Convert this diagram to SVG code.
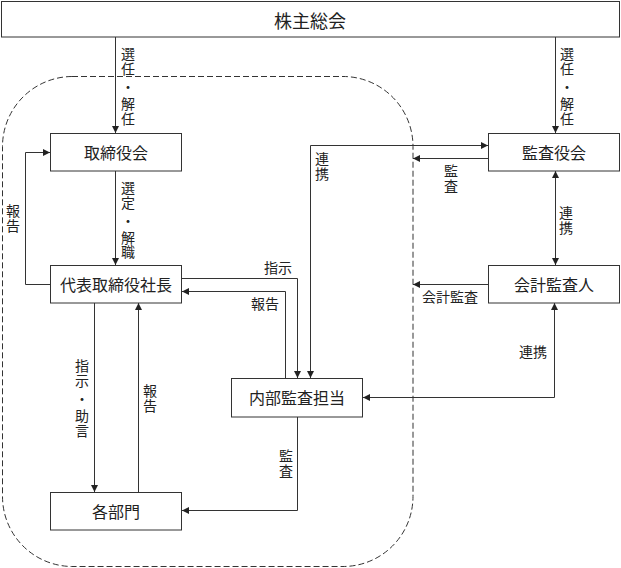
<svg xmlns="http://www.w3.org/2000/svg" width="621" height="568" viewBox="0 0 621 568">
<defs>
<marker id="ah" viewBox="0 0 10 10" refX="10" refY="5" markerWidth="7" markerHeight="7" markerUnits="userSpaceOnUse" orient="auto-start-reverse">
<path d="M0,0 L10,5 L0,10 z" fill="#222"/>
</marker>
<style>
.box{fill:#fff;stroke:#333;stroke-width:1}
.t{font-family:"Noto Sans CJK JP","Noto Sans CJK SC",sans-serif;fill:#222;text-anchor:middle;dominant-baseline:central}
.bt{font-size:16px}
.lb{font-size:14px}
.c{fill:none;stroke:#333;stroke-width:1}
.a{marker-end:url(#ah)}
.ab{marker-start:url(#ah);marker-end:url(#ah)}
</style>
</defs>
<rect width="621" height="568" fill="#fff"/>
<path d="M72,76.5 H343 A70,70 0 0 1 413,146.5 V496.5 A70,70 0 0 1 343,566.5 H72 A70,70 0 0 1 2.5,496.5 V146.5 A70,70 0 0 1 72,76.5 Z" fill="none" stroke="#333" stroke-width="1" stroke-dasharray="6,3"/>
<g id="connectors">
<path class="c a" d="M115.5,37 V133"/>
<path class="c a" d="M555.5,37 V133"/>
<path class="c a" d="M115.5,171 V265"/>
<path class="c a" d="M50,284.5 H25.5 V152.5 H50"/>
<path class="c a" d="M182,278.5 H297.5 V378"/>
<path class="c a" d="M285.5,378 V291.5 H182"/>
<path class="c ab" d="M310.5,378 V145.5 H488"/>
<path class="c a" d="M488,158.5 H413"/>
<path class="c ab" d="M555.5,171 V265"/>
<path class="c a" d="M488,284.5 H413"/>
<path class="c ab" d="M554.5,303 V397.5 H363"/>
<path class="c a" d="M94.5,303 V492"/>
<path class="c a" d="M138.5,492 V303"/>
<path class="c a" d="M297.5,417 V510.5 H182"/>
</g>
<g id="n-shareholders">
<rect class="box" x="1.5" y="1.5" width="618" height="35.5"/>
<text class="t" x="310" y="20" font-size="18">株主総会</text>
</g>
<g id="n-board">
<rect class="box" x="50.5" y="133.5" width="131" height="37.5"/>
<text class="t bt" x="116" y="152">取締役会</text>
</g>
<g id="n-president">
<rect class="box" x="50.5" y="265.5" width="131" height="37.5"/>
<text class="t bt" x="116" y="284">代表取締役社長</text>
</g>
<g id="n-departments">
<rect class="box" x="50.5" y="492.5" width="131" height="37.5"/>
<text class="t bt" x="116" y="511">各部門</text>
</g>
<g id="n-internal-audit">
<rect class="box" x="231.5" y="378.5" width="131" height="38.5"/>
<text class="t bt" x="297" y="397">内部監査担当</text>
</g>
<g id="n-auditors">
<rect class="box" x="488.5" y="133.5" width="131" height="37.5"/>
<text class="t bt" x="554" y="152">監査役会</text>
</g>
<g id="n-accounting-auditor">
<rect class="box" x="488.5" y="265.5" width="131" height="37.5"/>
<text class="t bt" x="554" y="284">会計監査人</text>
</g>
<g id="labels">
<text class="t lb" x="128" y="53">選</text>
<text class="t lb" x="128" y="68">任</text>
<text class="t lb" x="128" y="86">・</text>
<text class="t lb" x="128" y="103">解</text>
<text class="t lb" x="128" y="118">任</text>
<text class="t lb" x="567" y="53">選</text>
<text class="t lb" x="567" y="68">任</text>
<text class="t lb" x="567" y="86">・</text>
<text class="t lb" x="567" y="103">解</text>
<text class="t lb" x="567" y="118">任</text>
<text class="t lb" x="128" y="187">選</text>
<text class="t lb" x="128" y="202">定</text>
<text class="t lb" x="128" y="220">・</text>
<text class="t lb" x="128" y="237">解</text>
<text class="t lb" x="128" y="251">職</text>
<text class="t lb" x="13" y="210">報</text>
<text class="t lb" x="13" y="225">告</text>
<text class="t lb" x="82" y="365">指</text>
<text class="t lb" x="82" y="380">示</text>
<text class="t lb" x="82" y="398">・</text>
<text class="t lb" x="82" y="415">助</text>
<text class="t lb" x="82" y="430">言</text>
<text class="t lb" x="150" y="390">報</text>
<text class="t lb" x="150" y="405">告</text>
<text class="t lb" x="286" y="455">監</text>
<text class="t lb" x="286" y="470">査</text>
<text class="t lb" x="322" y="158">連</text>
<text class="t lb" x="322" y="173">携</text>
<text class="t lb" x="451" y="170">監</text>
<text class="t lb" x="451" y="185">査</text>
<text class="t lb" x="566" y="212">連</text>
<text class="t lb" x="566" y="227">携</text>
<text class="t lb" x="278" y="267">指示</text>
<text class="t lb" x="265" y="303">報告</text>
<text class="t lb" x="450" y="296">会計監査</text>
<text class="t lb" x="533" y="351">連携</text>
</g>
</svg>
